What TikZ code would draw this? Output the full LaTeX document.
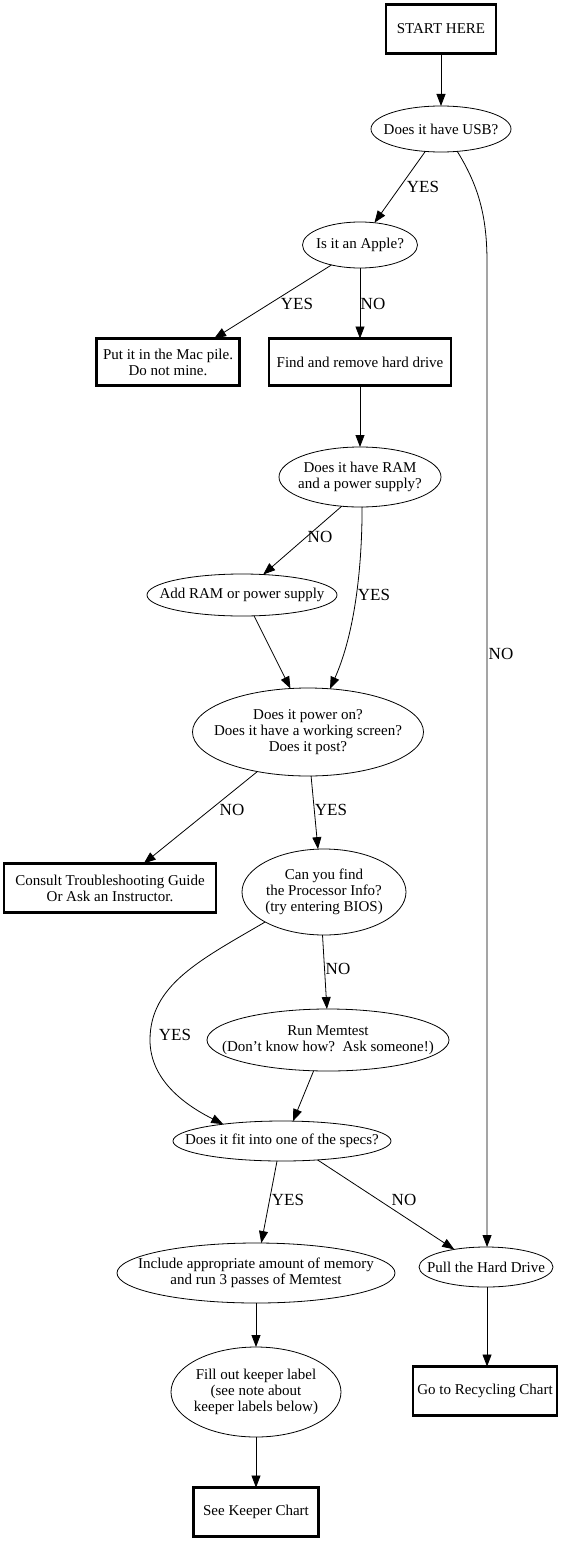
\documentclass[tikz,border=0pt]{standalone}
\usepackage{fontspec}
\setmainfont{Liberation Serif}
\usetikzlibrary{arrows.meta,shapes.geometric}
\begin{document}
\begin{tikzpicture}[x=1pt,y=-1pt,
  every node/.style={outer sep=0pt, inner sep=0pt},
  ntext/.style={font=\fontsize{15}{16}\selectfont, align=center},
  boxn/.style={draw, rectangle, line width=2.6pt, ntext},
  elln/.style={draw, ellipse, line width=0.8pt},
  conn/.style={-{Triangle[length=12pt,width=9pt]}, line width=0.8pt},
  elab/.style={font=\fontsize{17}{20}\selectfont}]
\useasboundingbox[fill=white] (0,0) rectangle (569,1541);

% nodes
\node[boxn, minimum width=110pt, minimum height=49pt] (start) at (441,29) {START HERE};
\node[elln, minimum width=140pt, minimum height=46pt, label={[ntext]center:Does it have USB?}] (usb) at (441,129) {};
\node[elln, minimum width=115pt, minimum height=46pt, label={[ntext]center:Is it an Apple?}] (apple) at (360,245) {};
\node[boxn, minimum width=143pt, minimum height=47pt] (mac) at (168,362) {Put it in the Mac pile.\\Do not mine.};
\node[boxn, minimum width=182pt, minimum height=47pt] (find) at (360,362) {Find and remove hard drive};
\node[elln, minimum width=162pt, minimum height=60pt, label={[ntext]center:Does it have RAM\\and a power supply?}] (ram) at (360,477) {};
\node[elln, minimum width=190pt, minimum height=42pt, label={[ntext]center:Add RAM or power supply}] (add) at (242,595) {};
\node[elln, minimum width=231pt, minimum height=88pt, label={[ntext]center:Does it power on?\\Does it have a working screen?\\Does it post?}] (power) at (308,732) {};
\node[boxn, minimum width=212pt, minimum height=49pt] (consult) at (110,888) {Consult Troubleshooting Guide\\Or Ask an Instructor.};
\node[elln, minimum width=164pt, minimum height=86pt, label={[ntext]center:Can you find\\the Processor Info?\\(try entering BIOS)}] (proc) at (324,892) {};
\node[elln, minimum width=242pt, minimum height=62pt, label={[ntext]center:Run Memtest\\(Don't know how?\ \ Ask someone!)}] (memtest) at (328,1040) {};
\node[elln, minimum width=218pt, minimum height=40pt, label={[ntext]center:Does it fit into one of the specs?}] (specs) at (282,1141) {};
\node[elln, minimum width=278pt, minimum height=60pt, label={[ntext]center:Include appropriate amount of memory\\and run 3 passes of Memtest}] (include) at (256,1273) {};
\node[elln, minimum width=134pt, minimum height=40pt, label={[ntext]center:Pull the Hard Drive}] (pull) at (486,1267) {};
\node[elln, minimum width=170pt, minimum height=90pt, label={[ntext]center:Fill out keeper label\\(see note about\\keeper labels below)}] (fill) at (256,1392) {};
\node[boxn, minimum width=125pt, minimum height=49pt] (keeper) at (256,1512) {See Keeper Chart};
\node[boxn, minimum width=144pt, minimum height=49pt] (recyc) at (485,1391) {Go to Recycling Chart};

% connectors
\draw[conn] (start.south) -- (usb.north);
\draw[conn] (usb.235) -- (apple.57);
\draw[conn] (usb.306) .. controls (478,185) and (487,215) .. (487,262) -- (pull.87);
\draw[conn] (apple.215) -- (mac.27);
\draw[conn] (apple.south) -- (find.north);
\draw[conn] (find.south) -- (ram.north);
\draw[conn] (ram.238) -- (add.44);
\draw[conn] (ram.274) .. controls (362,580) and (352,640) .. (power.63);
\draw[conn] (add.300) -- (power.112);
\draw[conn] (power.218) -- (consult.36);
\draw[conn] (power.274) -- (proc.98);
\draw[conn] (proc.268) -- (memtest.92);
\draw[conn] (proc.207) .. controls (200,960) and (150,985) .. (150,1040) .. controls (150,1080) and (185,1105) .. (specs.164);
\draw[conn] (memtest.245) -- (specs.61);
\draw[conn] (specs.256) -- (include.80);
\draw[conn] (specs.332) -- (pull.151);
\draw[conn] (include.south) -- (fill.north);
\draw[conn] (fill.south) -- (keeper.north);
\draw[conn] (pull.273) -- (pull.273 |- recyc.north);

% edge labels
\node[elab] (l1) at (423,187) {YES};
\node[elab] (l2) at (501,654) {NO};
\node[elab] (l3) at (297,304) {YES};
\node[elab] (l4) at (373,304) {NO};
\node[elab] (l5) at (320,537) {NO};
\node[elab] (l6) at (374,595) {YES};
\node[elab] (l7) at (232,810) {NO};
\node[elab] (l8) at (331,810) {YES};
\node[elab] (l9) at (338,969) {NO};
\node[elab] (l10) at (175,1035) {YES};
\node[elab] (l11) at (288,1200) {YES};
\node[elab] (l12) at (404,1200) {NO};
\end{tikzpicture}
\end{document}
